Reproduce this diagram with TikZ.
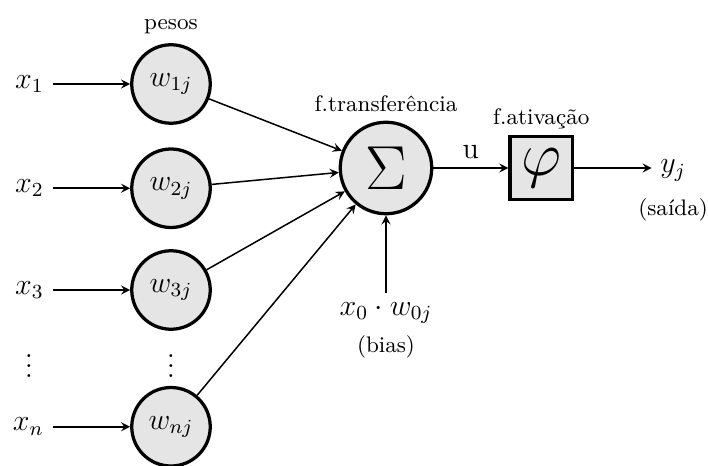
\documentclass[tikz,border=0pt]{standalone}
\usepackage{amsmath,amssymb}
\usepackage{tikz}
\usetikzlibrary{arrows, positioning, calc}

\begin{document}
\begin{tikzpicture}[x=0.4pt, y=-0.4pt, node distance=1cm, >=stealth, font=\small]
    \tikzstyle{neuron} = [circle, minimum size=31.4pt, inner sep=0pt, draw=black, line width=1.3pt, fill=gray!20, font=\large]
    \tikzstyle{func} = [rectangle, minimum size=25pt, inner sep=0pt, draw=black, line width=1.3pt, fill=gray!20]
    \tikzstyle{mathlbl} = [font=\large]
    \tikzstyle{arrow} = [semithick,->,>=stealth]
    \tikzstyle{annot} = [font=\small]

    \useasboundingbox (0,0) rectangle (708,466);

    % Weights
    \node (w1) [neuron] at (171,84) {$w_{1j}$};
    \node (w2) [neuron, below=9pt of w1] {$w_{2j}$};
    \node (w3) [neuron, below=8pt of w2] {$w_{3j}$};
    \node (wn) [neuron, below=22pt of w3] {$w_{nj}$};
    \node (wdots) [mathlbl, inner sep=0pt] at ($(w3)!0.5!(wn)$) {$\vdots$};
    \node (pesos) [annot, above=0pt of w1] {pesos};

    % Inputs
    \node (x1) [mathlbl, left=31pt of w1] {$x_1$};
    \node (x2) [mathlbl, left=31pt of w2] {$x_2$};
    \node (x3) [mathlbl, left=31pt of w3] {$x_3$};
    \node (xn) [mathlbl, left=31pt of wn] {$x_n$};
    \node (xdots) [mathlbl, inner sep=0pt] at ($(x3)!0.5!(xn)$) {$\vdots$};

    % Transfer function
    \node (sum) [neuron, minimum size=36.6pt, font=\fontsize{27}{30}\selectfont] at (386,168) {$\Sigma$};
    \node (transf) [annot, above=0pt of sum] {f.transferência};

    % Bias
    \node (bias) [mathlbl, below=31pt of sum] {$x_0 \cdot w_{0j}$};
    \node (biaslbl) [annot, below=-2pt of bias] {(bias)};

    % Activation function
    \node (phi) [func, right=30pt of sum] {\fontsize{26}{30}\selectfont$\varphi$};
    \node (ativ) [annot, above=-1pt of phi] {f.ativação};

    % Output
    \node (yj) [mathlbl, right=31pt of phi, yshift=-1pt] {$y_j$};
    \node (saida) [annot, below=0pt of yj] {(saída)};

    % Arrows
    \draw [arrow] (x1) -- (w1);
    \draw [arrow] (x2) -- (w2);
    \draw [arrow] (x3) -- (w3);
    \draw [arrow] (xn) -- (wn);
    \draw [arrow] (w1) -- (sum);
    \draw [arrow] (w2) -- (sum);
    \draw [arrow] (w3) -- (sum);
    \draw [arrow] (wn) -- (sum);
    \draw [arrow] (bias) -- (sum);
    \draw [arrow] (sum) -- node[above, font=\large] {u} (phi);
    \draw [arrow] (phi) -- (phi -| yj.west);
\end{tikzpicture}
\end{document}
